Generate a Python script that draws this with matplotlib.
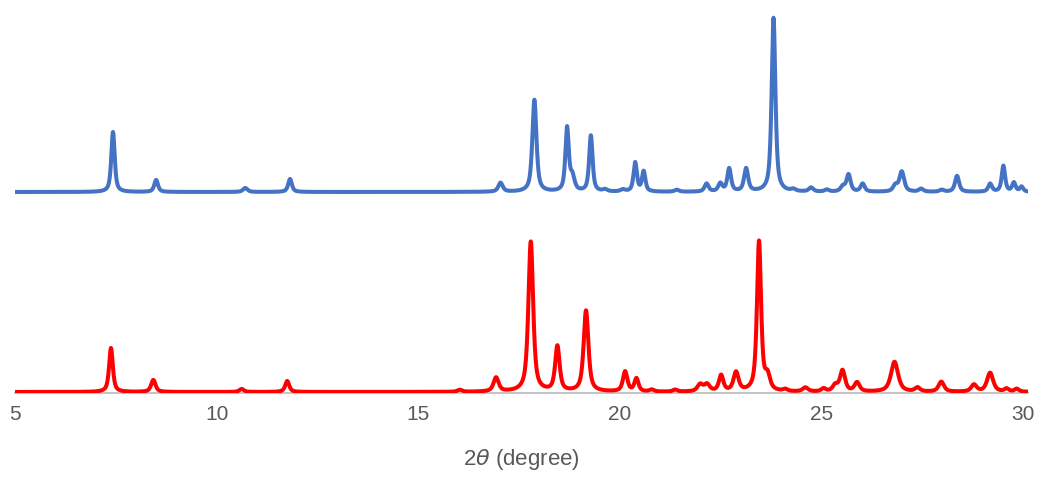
import numpy as np
import matplotlib
matplotlib.use("Agg")
import matplotlib.pyplot as plt

# ---- data (peak table of each XRD pattern) ----
# 2theta positions (degree), peak intensities (a.u.), widths FWHM (degree)
blue_pos = [7.43, 8.50, 10.71, 11.82, 17.04, 17.88, 18.69, 18.82, 19.28, 19.63,
            20.07, 20.38, 20.59, 21.41, 22.15, 22.49, 22.71, 23.13, 23.81, 24.30,
            24.74, 25.13, 25.53, 25.67, 26.02, 26.83, 26.99, 27.47, 27.98, 28.36,
            29.18, 29.51, 29.77, 29.96]
blue_int = [60, 12, 4, 13, 9, 92, 63, 14, 56, 2,
            2, 29, 20, 2, 8, 8, 23, 23, 174, 2,
            4, 2, 5, 17, 8, 6, 20, 3, 2, 16,
            8, 26, 9, 5]
blue_wid = [0.10, 0.11, 0.13, 0.11, 0.13, 0.12, 0.10, 0.13, 0.10, 0.13,
            0.13, 0.10, 0.10, 0.13, 0.12, 0.12, 0.11, 0.12, 0.11, 0.13,
            0.13, 0.13, 0.13, 0.12, 0.12, 0.13, 0.14, 0.13, 0.13, 0.12,
            0.11, 0.10, 0.10, 0.10]

red_pos = [7.38, 8.43, 10.62, 11.75, 16.03, 16.93, 17.79, 18.45, 19.16, 20.13,
           20.41, 20.79, 21.37, 21.99, 22.16, 22.51, 22.88, 23.45, 23.66, 24.10,
           24.60, 25.05, 25.34, 25.52, 25.88, 26.81, 27.38, 27.97, 28.78, 29.18,
           29.59, 29.84]
red_int = [44, 12, 3, 11, 2, 14, 150, 45, 81, 20,
           13, 2, 2, 7, 7, 16, 19, 150, 14, 2,
           4, 3, 6, 21, 9, 30, 4, 10, 7, 19,
           3, 3]
red_wid = [0.11, 0.13, 0.13, 0.12, 0.13, 0.15, 0.14, 0.13, 0.14, 0.13,
           0.12, 0.13, 0.13, 0.16, 0.16, 0.13, 0.15, 0.12, 0.15, 0.13,
           0.16, 0.13, 0.15, 0.15, 0.15, 0.21, 0.15, 0.16, 0.16, 0.18,
           0.13, 0.13]

blue_offset = 201
red_offset = 1

x_ticks = [5, 10, 15, 20, 25, 30]
x_label = r"2$\theta$ (degree)"


def pattern(grid, pos, inten, wid, eta=0.7):
    y = np.zeros_like(grid)
    for p, h, w in zip(pos, inten, wid):
        d = (grid - p) / (w / 2)
        lor = 1.0 / (1.0 + d ** 2)
        gau = np.exp(-np.log(2) * d ** 2)
        y += h * (eta * lor + (1 - eta) * gau)
    return y


grid = np.linspace(5, 30.12, 5025)
blue_y = pattern(grid, blue_pos, blue_int, blue_wid) + blue_offset
red_y = pattern(grid, red_pos, red_int, red_wid) + red_offset

W, H = 1043, 478
fig = plt.figure(figsize=(W / 100, H / 100), dpi=100)
ax = fig.add_axes([15 / W, (H - 393) / H, (1028 - 15) / W, (393 - 10) / H])

ax.plot(grid, red_y, color="#ff0000", lw=2.9, solid_joinstyle="round", zorder=3)
ax.plot(grid, blue_y, color="#4472c4", lw=2.9, solid_joinstyle="round", zorder=3)

ax.set_xlim(5, 30.12)
ax.set_ylim(0, 383)
ax.set_xticks(x_ticks)
ax.set_yticks([])
for s in ["left", "right", "top"]:
    ax.spines[s].set_visible(False)
ax.spines["bottom"].set_color("#bfbfbf")
ax.spines["bottom"].set_linewidth(1.3)
ax.spines["bottom"].set_zorder(2)
ax.tick_params(axis="x", length=0, pad=9, labelsize=15, labelcolor="#595959")
for lbl in ax.get_xticklabels():
    lbl.set_fontfamily("Liberation Sans")
ax.set_xlabel(x_label, fontsize=16, color="#595959", family="Liberation Sans", labelpad=16)

fig.savefig("out.png", dpi=100)
